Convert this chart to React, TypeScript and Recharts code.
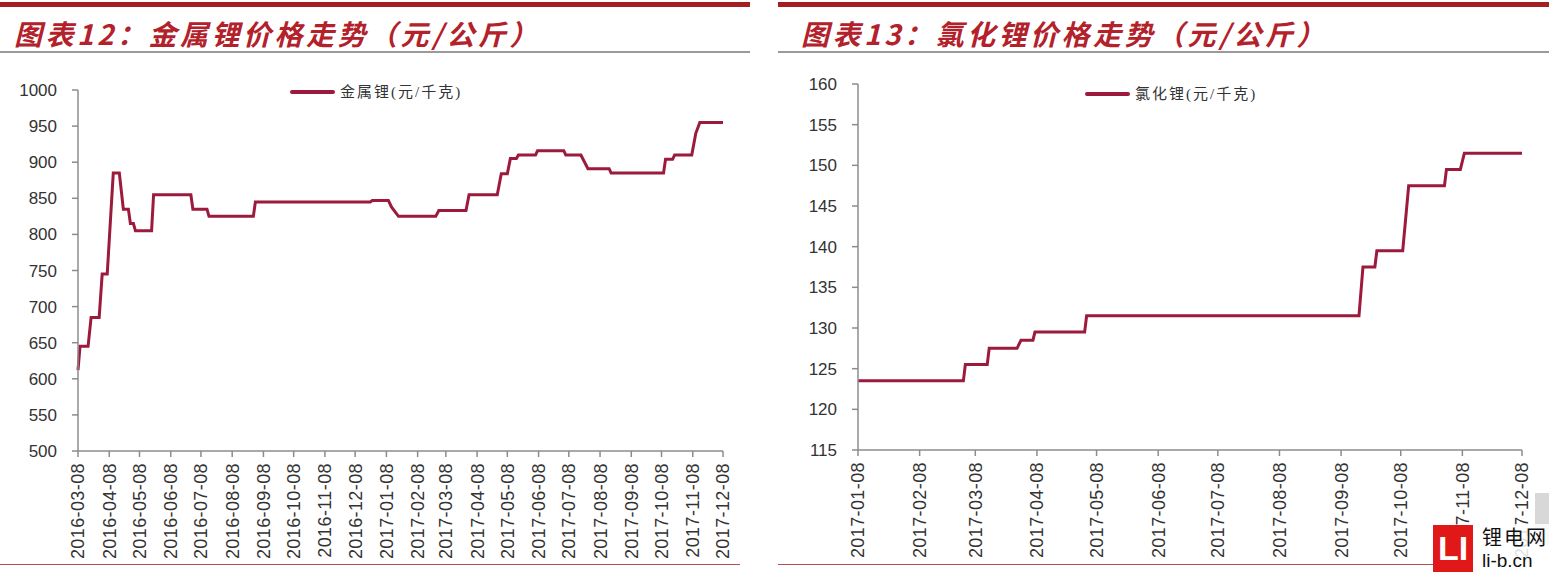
import React from "react";
import { LineChart, Line, XAxis, YAxis } from "recharts";

// 金属锂价格 (元/千克)
const metalDates = [
  "2016-03-08", "2016-03-10", "2016-03-18", "2016-03-21", "2016-03-29", "2016-04-01",
  "2016-04-06", "2016-04-12", "2016-04-18", "2016-04-22", "2016-04-27", "2016-04-29",
  "2016-05-02", "2016-05-04", "2016-05-20", "2016-05-22", "2016-06-28", "2016-06-30",
  "2016-07-14", "2016-07-16", "2016-08-29", "2016-08-31", "2016-12-23", "2016-12-25",
  "2017-01-10", "2017-01-13", "2017-01-20", "2017-02-26", "2017-03-01", "2017-03-28",
  "2017-03-31", "2017-04-28", "2017-05-02", "2017-05-08", "2017-05-11", "2017-05-17",
  "2017-05-19", "2017-06-05", "2017-06-07", "2017-07-03", "2017-07-05", "2017-07-20",
  "2017-07-27", "2017-08-17", "2017-08-19", "2017-10-10", "2017-10-12", "2017-10-19",
  "2017-10-21", "2017-11-07", "2017-11-11", "2017-11-15", "2017-12-08",
];
const metalValues = [
  612, 645, 645, 685, 685, 745,
  745, 885, 885, 835, 835, 815,
  815, 805, 805, 855, 855, 835,
  835, 825, 825, 845, 845, 847,
  847, 838, 825, 825, 833, 833,
  855, 855, 884, 884, 905, 905,
  910, 910, 916, 916, 910, 910,
  891, 891, 885, 885, 904, 904,
  910, 910, 940, 955, 955,
];
const metalTicks = [
  "2016-03-08", "2016-04-08", "2016-05-08", "2016-06-08", "2016-07-08", "2016-08-08",
  "2016-09-08", "2016-10-08", "2016-11-08", "2016-12-08", "2017-01-08", "2017-02-08",
  "2017-03-08", "2017-04-08", "2017-05-08", "2017-06-08", "2017-07-08", "2017-08-08",
  "2017-09-08", "2017-10-08", "2017-11-08", "2017-12-08",
];
const metalYTicks = [500, 550, 600, 650, 700, 750, 800, 850, 900, 950, 1000];

// 氯化锂价格 (元/千克)
const chlorideDates = [
  "2017-01-08", "2017-03-02", "2017-03-03", "2017-03-14", "2017-03-15", "2017-03-29",
  "2017-03-31", "2017-04-06", "2017-04-07", "2017-05-02", "2017-05-03", "2017-09-17",
  "2017-09-19", "2017-09-25", "2017-09-26", "2017-10-09", "2017-10-12", "2017-10-30",
  "2017-10-31", "2017-11-07", "2017-11-09", "2017-12-08",
];
const chlorideValues = [
  123.5, 123.5, 125.5, 125.5, 127.5, 127.5,
  128.5, 128.5, 129.5, 129.5, 131.5, 131.5,
  137.5, 137.5, 139.5, 139.5, 147.5, 147.5,
  149.5, 149.5, 151.5, 151.5,
];
const chlorideTicks = [
  "2017-01-08", "2017-02-08", "2017-03-08", "2017-04-08", "2017-05-08", "2017-06-08",
  "2017-07-08", "2017-08-08", "2017-09-08", "2017-10-08", "2017-11-08", "2017-12-08",
];
const chlorideYTicks = [115, 120, 125, 130, 135, 140, 145, 150, 155, 160];

const toTime = (d: string) => new Date(d).getTime();
const fmtDate = (t: number) => new Date(t).toISOString().slice(0, 10);

const LINE_COLOR = "#9c1a3c";
const AXIS_COLOR = "#8c8c8c";
const TITLE_RED = "#b3212b";

const RotatedTick = (props: any) => {
  const { x, y, payload } = props;
  return (
    <text
      x={x}
      y={y + 4}
      transform={`rotate(-90, ${x}, ${y + 4})`}
      textAnchor="end"
      dy="0.36em"
      fontSize={18}
      letterSpacing={0.4}
      fill="#333"
      fontFamily="Liberation Sans, Arial, sans-serif"
    >
      {fmtDate(payload.value)}
    </text>
  );
};

// 图例（放在图外层，不占用绘图区）
const LegendBox = ({ label, left, top }: { label: string; left: number; top: number }) => (
  <div
    style={{
      position: "absolute",
      left,
      top,
      display: "flex",
      alignItems: "center",
      whiteSpace: "nowrap",
    }}
  >
    <div style={{ width: 45, height: 4, background: LINE_COLOR, borderRadius: 2 }} />
    <span
      style={{
        marginLeft: 5,
        fontSize: 15,
        letterSpacing: 2,
        color: "#333",
        lineHeight: "20px",
        fontFamily: "'Liberation Serif', 'Noto Sans CJK SC', serif",
      }}
    >
      {label}
    </span>
  </div>
);

function PriceChart(props: {
  dates: string[];
  values: number[];
  ticks: string[];
  yTicks: number[];
  name: string;
  width: number;
  plotLeft: number;
  plotRight: number;
  plotTop: number;
  plotBottom: number;
}) {
  const data = props.dates.map((d, i) => ({ t: toTime(d), v: props.values[i] }));
  const xTicks = props.ticks.map(toTime);
  const height = 572;
  const xAxisHeight = 100;
  return (
    <LineChart
      width={props.width}
      height={height}
      data={data}
      margin={{
        top: props.plotTop,
        right: props.width - props.plotRight,
        left: 0,
        bottom: height - props.plotBottom - xAxisHeight,
      }}
    >
      <XAxis
        dataKey="t"
        type="number"
        scale="linear"
        domain={[xTicks[0], xTicks[xTicks.length - 1]]}
        ticks={xTicks}
        interval={0}
        height={xAxisHeight}
        tick={<RotatedTick />}
        tickSize={6}
        stroke={AXIS_COLOR}
        strokeWidth={1.5}
      />
      <YAxis
        type="number"
        domain={[props.yTicks[0], props.yTicks[props.yTicks.length - 1]]}
        ticks={props.yTicks}
        interval={0}
        width={props.plotLeft}
        tickSize={6}
        tickMargin={15}
        stroke={AXIS_COLOR}
        strokeWidth={1.5}
        tick={{ fontSize: 17, fill: "#333", fontFamily: "Liberation Sans, Arial, sans-serif" }}
      />
      <Line
        type="linear"
        dataKey="v"
        name={props.name}
        stroke={LINE_COLOR}
        strokeWidth={3}
        dot={false}
        isAnimationActive={false}
      />
    </LineChart>
  );
}

const Title = ({ text, left }: { text: string; left: number }) => (
  <div
    style={{
      position: "absolute",
      left,
      top: 14,
      fontSize: 28,
      fontStyle: "italic",
      fontWeight: 700,
      letterSpacing: 3.5,
      color: TITLE_RED,
      fontFamily: "'Noto Sans CJK SC', sans-serif",
      lineHeight: "38px",
      whiteSpace: "nowrap",
    }}
  >
    {text}
  </div>
);

export default function App() {
  return (
    <div
      style={{
        position: "fixed",
        left: 0,
        top: 0,
        width: 1549,
        height: 572,
        background: "#fff",
        overflow: "hidden",
      }}
    >
      {/* 左侧：金属锂 */}
      <div style={{ position: "absolute", left: 0, top: 2, width: 750, height: 5, background: "#a51e22" }} />
      <Title text="图表12：金属锂价格走势（元/公斤）" left={14} />
      <div style={{ position: "absolute", left: 0, top: 51, width: 750, height: 2, background: "#9a9a9a" }} />
      <div style={{ position: "absolute", left: 0, top: 0 }}>
        <PriceChart
          dates={metalDates}
          values={metalValues}
          ticks={metalTicks}
          yTicks={metalYTicks}
          name="金属锂(元/千克)"
          width={750}
          plotLeft={78}
          plotRight={723}
          plotTop={90}
          plotBottom={451}
        />
      </div>
      <LegendBox label="金属锂(元/千克)" left={290} top={82} />
      <div style={{ position: "absolute", left: 0, top: 564, width: 740, height: 1, background: "#b05050" }} />

      {/* 右侧：氯化锂 */}
      <div style={{ position: "absolute", left: 778, top: 2, width: 771, height: 5, background: "#a51e22" }} />
      <Title text="图表13：氯化锂价格走势（元/公斤）" left={801} />
      <div style={{ position: "absolute", left: 778, top: 51, width: 771, height: 2, background: "#9a9a9a" }} />
      <div style={{ position: "absolute", left: 778, top: 0 }}>
        <PriceChart
          dates={chlorideDates}
          values={chlorideValues}
          ticks={chlorideTicks}
          yTicks={chlorideYTicks}
          name="氯化锂(元/千克)"
          width={771}
          plotLeft={80}
          plotRight={744}
          plotTop={84}
          plotBottom={450}
        />
      </div>
      <LegendBox label="氯化锂(元/千克)" left={1085} top={84} />
      <div style={{ position: "absolute", left: 778, top: 564, width: 660, height: 1, background: "#b05050" }} />

      {/* 水印 */}
      <div style={{ position: "absolute", left: 1535, top: 493, width: 14, height: 52, background: "#d8d8d8" }} />
      <div
        style={{
          position: "absolute",
          left: 1433,
          top: 525,
          width: 40,
          height: 47,
          background: "#e01818",
          color: "#fff",
          fontFamily: "'Liberation Sans', Arial, sans-serif",
          fontWeight: 700,
          fontSize: 34,
          lineHeight: "47px",
          textAlign: "center",
        }}
      >
        LI
      </div>
      <div
        style={{
          position: "absolute",
          left: 1476,
          top: 524,
          width: 73,
          height: 48,
          background: "rgba(255,255,255,0.85)",
        }}
      />
      <div
        style={{
          position: "absolute",
          left: 1482,
          top: 524,
          fontSize: 20,
          lineHeight: "26px",
          letterSpacing: 2,
          fontFamily: "'Noto Sans CJK SC', sans-serif",
          color: "#111",
        }}
      >
        锂电网
      </div>
      <div
        style={{
          position: "absolute",
          left: 1482,
          top: 550,
          fontSize: 19,
          lineHeight: "22px",
          fontFamily: "'Liberation Sans', Arial, sans-serif",
          color: "#111",
        }}
      >
        li-b.cn
      </div>
    </div>
  );
}
